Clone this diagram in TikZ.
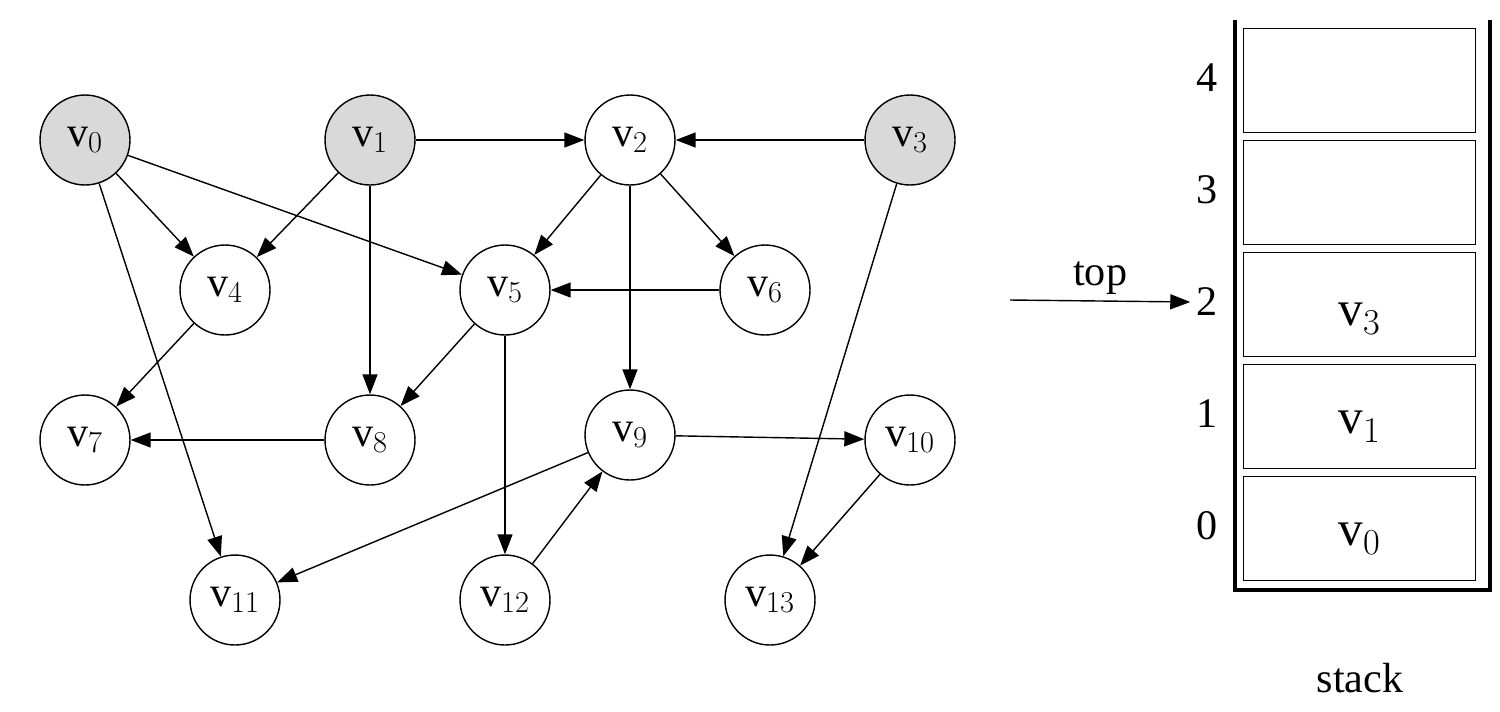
\documentclass[tikz,border=0pt]{standalone}
\usepackage{fontspec}
\setmainfont{Liberation Serif}
\usetikzlibrary{arrows.meta,calc}
\begin{document}
\begin{tikzpicture}[
			x=0.02cm, y=-0.02cm,
			every node/.style={font=\fontsize{24}{26}\selectfont},
			vert/.style={circle, draw, thick, minimum size=1.8cm, inner sep=0pt},
			src/.style={vert, fill=gray!30},
			edge/.style={-{Triangle[length=4mm,width=3mm]}, thick},
			cell/.style={draw, thick, minimum width=4.64cm, minimum height=2.08cm, anchor=north west}
			]
			\useasboundingbox (0,0) rectangle (1500,711);
			
			% graph
			\node (v0) at (85,140) [src] {v$_0$};
			\node (v1) at (370,140) [src] {v$_1$};
			\node (v2) at (630,140) [vert] {v$_2$};
			\node (v3) at (910,140) [src] {v$_3$};
			\node (v4) at (225,290) [vert] {v$_4$};
			\node (v5) at (505,290) [vert] {v$_5$};
			\node (v6) at (765,290) [vert] {v$_6$};
			\node (v7) at (85,440) [vert] {v$_7$};
			\node (v8) at (370,440) [vert] {v$_8$};
			\node (v9) at (630,435) [vert] {v$_9$};
			\node (v10) at (910,440) [vert] {v$_{10}$};
			\node (v11) at (235,600) [vert] {v$_{11}$};
			\node (v12) at (505,600) [vert] {v$_{12}$};
			\node (v13) at (770,600) [vert] {v$_{13}$};
			
			\foreach \a/\b in {v1/v2, v3/v2, v0/v4, v0/v5, v0/v11, v1/v4, v1/v8, v2/v5, v2/v6, v2/v9,
				v6/v5, v4/v7, v5/v8, v5/v12, v8/v7, v9/v10, v9/v11, v12/v9, v3/v13, v10/v13}
				\draw [edge] (\a) -- (\b);
			
			% stack
			\foreach \i/\y in {4/28, 3/140, 2/252, 1/364, 0/476} {
				\node (c\i) at (1243,\y) [cell] {};
				\node (n\i) at (1207,\y+50) {\i};
			}
			\node (s2) at ($(c2.center)+(0,14)$) {\fontsize{28}{30}\selectfont v$_3$};
			\node (s1) at ($(c1.center)+(0,10)$) {\fontsize{28}{30}\selectfont v$_1$};
			\node (s0) at ($(c0.center)+(0,10)$) {\fontsize{28}{30}\selectfont v$_0$};
			\draw [line width=2.5pt] (1235,20) -- (1235,590) -- (1490,590) -- (1490,20);
			
			\coordinate (t) at (1010,300);
			\draw [edge] (t) -- (n2.west) node [midway, above] {top};
			\node (stk) at (1360,678) {stack};
			\end{tikzpicture}
\end{document}
